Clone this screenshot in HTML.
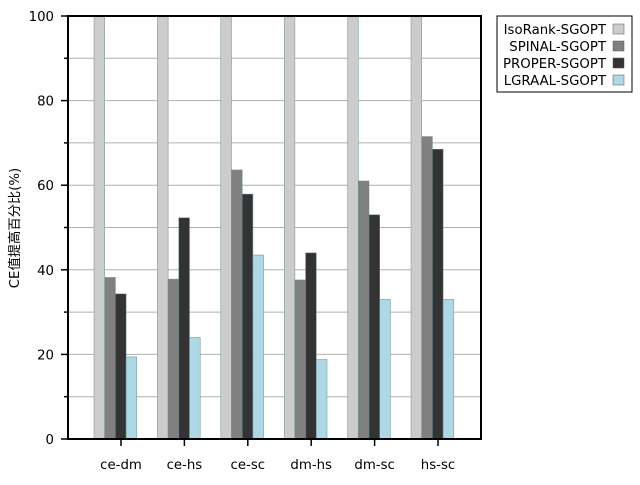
<!DOCTYPE html>
<html><head><meta charset="utf-8"><style>body{margin:0;background:#fff}svg text{font-family:"DejaVu Sans","Liberation Sans","Noto Sans CJK SC",sans-serif}</style></head>
<body>
<svg id="chart" width="640" height="480" xmlns="http://www.w3.org/2000/svg">
<g id="grid"></g><g id="bars"></g><g id="axes"></g><g id="legend"></g>
</svg>
<script>
const categories = ["ce-dm","ce-hs","ce-sc","dm-hs","dm-sc","hs-sc"];
const seriesNames = ["IsoRank-SGOPT","SPINAL-SGOPT","PROPER-SGOPT","LGRAAL-SGOPT"];
const isorank = [100,100,100,100,100,100];
const spinal = [38.2,37.8,63.6,37.6,61,71.5];
const proper = [34.3,52.3,57.9,44,53,68.5];
const lgraal = [19.4,24,43.5,18.8,33,33];
const yTicks = [0,20,40,60,80,100];
const colors = ["#cccccc","#808080","#333333","#add8e6"];
const series = [isorank,spinal,proper,lgraal];
const NS="http://www.w3.org/2000/svg";
const x0=68,x1=481,y0=439,y1=16;
const y=v=>y0-(v/100)*(y0-y1);
const tickX=i=>121+i*63.4;
const bw=10.7;
function mk(p,t,a){const e=document.createElementNS(NS,t);for(const k in a)e.setAttribute(k,a[k]);p.appendChild(e);return e;}
const grid=document.getElementById('grid'),bars=document.getElementById('bars'),axes=document.getElementById('axes'),leg=document.getElementById('legend');
for(let v=10;v<100;v+=10){const l=mk(grid,'line',{x1:x0,x2:x1,y1:y(v),y2:y(v),stroke:'#b0b0b0','stroke-width':1});

}
series.forEach((s,si)=>{s.forEach((v,i)=>{const r=mk(bars,'rect',{x:tickX(i)-27+si*bw,y:y(v),width:bw,height:y0-y(v),fill:colors[si],stroke:'#6d8a90','stroke-width':0.5});

});});
const frame=mk(axes,'rect',{x:x0,y:y1,width:x1-x0,height:y0-y1,fill:'none',stroke:'#000','stroke-width':2});


for(let v=0;v<=100;v+=10){mk(axes,'line',{x1:x0-(v%20?4:7),x2:x0,y1:y(v),y2:y(v),stroke:'#000','stroke-width':1.5});}
yTicks.forEach(v=>{const t=mk(axes,'text',{x:54,y:y(v)+5,'text-anchor':'end','font-size':13.3});t.textContent=v;

});
categories.forEach((c,i)=>{mk(axes,'line',{x1:tickX(i),x2:tickX(i),y1:y0,y2:y0+7,stroke:'#000','stroke-width':1.5});
const t=mk(axes,'text',{x:tickX(i),y:469,'text-anchor':'middle','font-size':13.3});t.textContent=c;

});
const yt=mk(axes,'text',{x:19,y:228,'text-anchor':'middle','font-size':13.3,transform:'rotate(-90 19 228)'});yt.textContent='CE值提高百分比(%)';


const lb=mk(leg,'rect',{x:497,y:16,width:135,height:76,fill:'#fff',stroke:'#000','stroke-width':1});


seriesNames.forEach((n,i)=>{const g=mk(leg,'g',{});


const t=mk(g,'text',{x:606,y:34+i*17,'text-anchor':'end','font-size':13.3});t.textContent=n;
mk(g,'rect',{x:613,y:24+i*17,width:11,height:10,fill:colors[i],stroke:'#555','stroke-width':0.5});});
</script>
</body></html>
